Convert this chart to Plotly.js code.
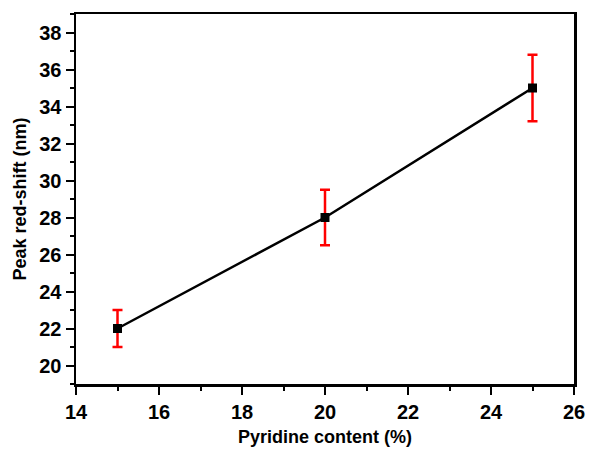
<!DOCTYPE html>
<html>
<head>
<meta charset="utf-8">
<script src="https://cdn.plot.ly/plotly-3.0.1.min.js"></script>
<style>html,body{margin:0;padding:0;background:#fff;}#chart{width:590px;height:451px;}</style>
</head>
<body>
<div id="chart"></div>
<script>
const pyridine = [15, 20, 25];
const redShift = [22, 28, 35];
const errorUp = [1, 1.5, 1.8];
const xTickVals = [14, 16, 18, 20, 22, 24, 26];
const yTickVals = [20, 22, 24, 26, 28, 30, 32, 34, 36, 38];

const fam = 'Liberation Sans, Arial, sans-serif';

const trace = {
  x: pyridine, y: redShift, type: 'scatter', mode: 'lines+markers',
  line: {color: '#000', width: 2.5},
  marker: {symbol: 'square', size: 9, color: '#000'},
  error_y: {type: 'data', array: errorUp, visible: true, color: '#ff0000', thickness: 2.5, width: 5}
};

const axisCommon = {
  showline: true, linecolor: '#000', linewidth: 2.5, mirror: true,
  ticks: 'outside', ticklen: 8, tickwidth: 2, tickcolor: '#000',
  showgrid: false, zeroline: false,
  tickfont: {family: fam, size: 20, color: '#000', weight: 'bold'}
};

const layout = {
  width: 590, height: 451,
  margin: {l: 76, r: 16, t: 14, b: 67},
  paper_bgcolor: '#fff', plot_bgcolor: '#fff',
  showlegend: false,
  xaxis: Object.assign({}, axisCommon, {
    range: [14, 26], tickvals: xTickVals, ticktext: xTickVals.map(String),
    minor: {dtick: 1, tick0: 14, ticks: 'outside', ticklen: 4, tickwidth: 2, tickcolor: '#000', showgrid: false},
    title: {text: 'Pyridine content (%)', font: {family: fam, size: 18, color: '#000', weight: 'bold'}, standoff: 9}
  }),
  yaxis: Object.assign({}, axisCommon, {
    range: [19, 39], tickvals: yTickVals, ticktext: yTickVals.map(String),
    minor: {dtick: 1, tick0: 19, ticks: 'outside', ticklen: 4, tickwidth: 2, tickcolor: '#000', showgrid: false},
    title: {text: 'Peak red-shift (nm)', font: {family: fam, size: 18, color: '#000', weight: 'bold'}, standoff: 8}
  })
};

Plotly.newPlot('chart', [trace], layout, {displayModeBar: false, staticPlot: true});
</script>
</body>
</html>
